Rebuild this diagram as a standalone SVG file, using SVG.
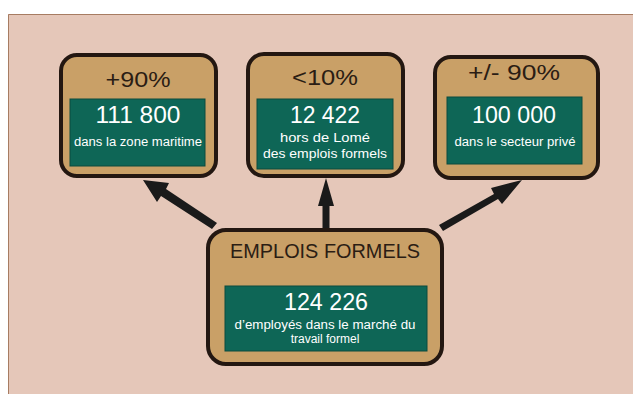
<svg xmlns="http://www.w3.org/2000/svg" width="633" height="394" viewBox="0 0 633 394">
<style>
.box{fill:#c9a067;stroke:#231711;stroke-width:4}
.inner{fill:#0e6656;stroke:#0a4a3e;stroke-width:1}
.t{font-family:"Liberation Sans",Arial,sans-serif;fill:#2b1d14;text-anchor:middle}
.w{font-family:"Liberation Sans",Arial,sans-serif;fill:#ffffff;text-anchor:middle}
.arr{fill:#1a1a1a}
</style>
<rect x="0" y="0" width="633" height="394" fill="#ffffff"/>
<rect x="8" y="14" width="625" height="380" fill="#e5c7b9"/>
<path d="M8.5,394 V14.5 H633" fill="none" stroke="#a77c62" stroke-width="1"/>
<g id="connectors">
<polygon class="arr" points="212,229 217,223 166,189 169,183 143,180 157,202 161,196"/>
<polygon class="arr" points="322.5,229 329.5,229 329.5,206 334,206 326,178 318,206 322.5,206"/>
<polygon class="arr" points="443,231 439,225 494,194 491,188 522,180 502,204 498,199"/>
</g>
<g id="node-maritime">
<rect class="box" x="61" y="55" width="155" height="121" rx="16"/>
<rect class="inner" x="70" y="99" width="135" height="67"/>
<text class="t" x="138" y="87" font-size="22" textLength="65" lengthAdjust="spacingAndGlyphs">+90%</text>
<text class="w" x="138" y="123" font-size="23" textLength="85" lengthAdjust="spacingAndGlyphs">111 800</text>
<text class="w" x="138" y="146" font-size="12.5" textLength="128" lengthAdjust="spacingAndGlyphs">dans la zone maritime</text>
</g>
<g id="node-lome">
<rect class="box" x="248" y="54" width="155" height="122" rx="16"/>
<rect class="inner" x="257" y="99" width="136" height="70"/>
<text class="t" x="325" y="85" font-size="22" textLength="66" lengthAdjust="spacingAndGlyphs">&lt;10%</text>
<text class="w" x="325" y="123" font-size="23" textLength="70" lengthAdjust="spacingAndGlyphs">12 422</text>
<text class="w" x="325" y="142" font-size="12.5" textLength="90" lengthAdjust="spacingAndGlyphs">hors de Lomé</text>
<text class="w" x="325" y="158" font-size="12.5" textLength="124" lengthAdjust="spacingAndGlyphs">des emplois formels</text>
</g>
<g id="node-prive">
<rect class="box" x="435" y="57" width="163" height="121" rx="16"/>
<rect class="inner" x="447" y="97" width="135" height="67"/>
<text class="t" x="514" y="80" font-size="22" textLength="92" lengthAdjust="spacingAndGlyphs">+/- 90%</text>
<text class="w" x="514" y="123" font-size="23" textLength="84" lengthAdjust="spacingAndGlyphs">100 000</text>
<text class="w" x="515" y="146" font-size="12.5" textLength="121" lengthAdjust="spacingAndGlyphs">dans le secteur privé</text>
</g>
<g id="node-central">
<rect class="box" x="208" y="230" width="234" height="134" rx="18"/>
<rect class="inner" x="225" y="286" width="202" height="65"/>
<text class="t" x="325" y="258" font-size="21" textLength="190" lengthAdjust="spacingAndGlyphs">EMPLOIS FORMELS</text>
<text class="w" x="326" y="310" font-size="23" textLength="84" lengthAdjust="spacingAndGlyphs">124 226</text>
<text class="w" x="325" y="329" font-size="12.5" textLength="181" lengthAdjust="spacingAndGlyphs">d’employés dans le marché du</text>
<text class="w" x="325" y="343" font-size="12">travail formel</text>
</g>
</svg>
